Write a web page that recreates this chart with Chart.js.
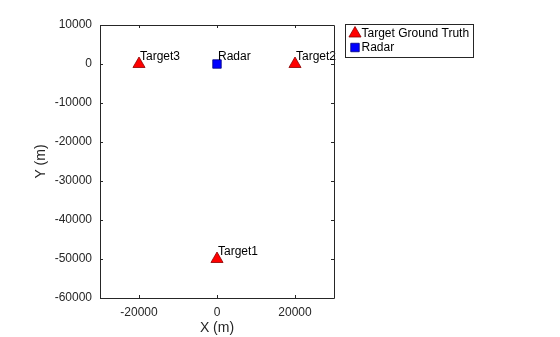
<!DOCTYPE html>
<html>
<head>
<meta charset="utf-8">
<script src="https://cdn.jsdelivr.net/npm/chart.js@4"></script>
<style>
  html, body { margin: 0; padding: 0; background: #ffffff; }
  #plot { display: block; }
</style>
</head>
<body>
<canvas id="plot" width="560" height="337"></canvas>
<script>
// data
const targetNames = ['Target1', 'Target2', 'Target3'];
const targetX = [0, 20000, -20000];
const targetY = [-50000, 0, 0];
const radarNames = ['Radar'];
const radarX = [0];
const radarY = [0];
const xTicks = [-20000, 0, 20000];
const yTicks = [10000, 0, -10000, -20000, -30000, -40000, -50000, -60000];
const legendLabels = ['Target Ground Truth', 'Radar'];

const FONT = '"Liberation Sans", Arial, Helvetica, sans-serif';
const AXIS_COLOR = '#262626';

const toPoints = (xs, ys) => xs.map((x, i) => ({ x: x, y: ys[i] }));

function drawMarker(ctx, style, r, x, y) {
  if (style === 'triangle') {
    const h = Math.sqrt(3) / 2 * r;
    ctx.moveTo(x, y - r);
    ctx.lineTo(x + h, y + r / 2);
    ctx.lineTo(x - h, y + r / 2);
    ctx.closePath();
  } else {
    const s = Math.SQRT1_2 * r;
    ctx.rect(x - s, y - s, 2 * s, 2 * s);
  }
}

// text next to each marker, plus the box, inward ticks and legend (MATLAB style)
const decorPlugin = {
  id: 'decor',
  afterDatasetsDraw(chart) {
    const ctx = chart.ctx;
    const xs = chart.scales.x;
    const ys = chart.scales.y;
    ctx.save();
    ctx.font = '12px ' + FONT;
    ctx.fillStyle = '#000000';
    ctx.textAlign = 'left';
    ctx.textBaseline = 'middle';
    const drawNames = (names, xv, yv) => {
      names.forEach((name, i) => {
        ctx.fillText(name, xs.getPixelForValue(xv[i]) + 1, ys.getPixelForValue(yv[i]) - 7);
      });
    };
    drawNames(targetNames, targetX, targetY);
    drawNames(radarNames, radarX, radarY);
    ctx.restore();
  },
  afterDraw(chart) {
    const ctx = chart.ctx;
    const area = chart.chartArea;
    const xs = chart.scales.x;
    const ys = chart.scales.y;
    const tick = 3;
    ctx.save();
    ctx.strokeStyle = AXIS_COLOR;
    ctx.lineWidth = 1;
    ctx.beginPath();
    ctx.rect(Math.round(area.left) + 0.5, Math.round(area.top) + 0.5,
      Math.round(area.right - area.left), Math.round(area.bottom - area.top));
    xTicks.forEach((v) => {
      const px = Math.round(xs.getPixelForValue(v)) + 0.5;
      ctx.moveTo(px, area.bottom);
      ctx.lineTo(px, area.bottom - tick);
      ctx.moveTo(px, area.top);
      ctx.lineTo(px, area.top + tick);
    });
    yTicks.forEach((v) => {
      const py = Math.round(ys.getPixelForValue(v)) + 0.5;
      ctx.moveTo(area.left, py);
      ctx.lineTo(area.left + tick, py);
      ctx.moveTo(area.right, py);
      ctx.lineTo(area.right - tick, py);
    });
    ctx.stroke();

    // legend box
    const lx = 345.5, ly = 24.5, lw = 128, lh = 33;
    ctx.fillStyle = '#ffffff';
    ctx.fillRect(lx, ly, lw, lh);
    ctx.strokeStyle = '#262626';
    ctx.strokeRect(lx, ly, lw, lh);
    ctx.font = '12px ' + FONT;
    ctx.textAlign = 'left';
    ctx.textBaseline = 'middle';
    chart.data.datasets.forEach((ds, i) => {
      const cy = ly + 9 + i * 14;
      ctx.fillStyle = ds.pointBackgroundColor;
      ctx.strokeStyle = ds.pointBorderColor;
      ctx.lineWidth = ds.pointBorderWidth;
      ctx.beginPath();
      drawMarker(ctx, ds.pointStyle, ds.pointRadius, lx + 9.5, cy);
      ctx.fill();
      ctx.stroke();
      ctx.fillStyle = '#000000';
      ctx.fillText(legendLabels[i], lx + 16, cy + 0.5);
    });
    ctx.restore();
  }
};

new Chart(document.getElementById('plot'), {
  type: 'scatter',
  data: {
    datasets: [
      {
        label: legendLabels[0],
        data: toPoints(targetX, targetY),
        pointStyle: 'triangle',
        pointRadius: 7,
        pointHoverRadius: 7,
        pointBackgroundColor: '#ff0000',
        pointBorderColor: '#8a0000',
        pointBorderWidth: 0.8
      },
      {
        label: legendLabels[1],
        data: toPoints(radarX, radarY),
        pointStyle: 'rect',
        pointRadius: 6,
        pointHoverRadius: 6,
        pointBackgroundColor: '#0000ff',
        pointBorderColor: '#000080',
        pointBorderWidth: 0.8
      }
    ]
  },
  options: {
    responsive: false,
    devicePixelRatio: 1,
    animation: false,
    events: [],
    layout: { padding: { left: 0, right: 226, top: 25, bottom: 0 } },
    plugins: {
      legend: { display: false },
      tooltip: { enabled: false }
    },
    scales: {
      x: {
        type: 'linear',
        min: -30000,
        max: 30000,
        afterBuildTicks: (scale) => { scale.ticks = xTicks.map((v) => ({ value: v })); },
        afterFit: (scale) => { scale.height = 39; },
        grid: { display: false, drawTicks: false },
        border: { display: false },
        ticks: {
          padding: 7,
          color: AXIS_COLOR,
          font: { family: FONT, size: 12 },
          maxRotation: 0,
          callback: (v) => String(v)
        },
        title: {
          display: true,
          text: 'X (m)',
          color: AXIS_COLOR,
          font: { family: FONT, size: 14 },
          padding: { top: 0, bottom: 0 }
        }
      },
      y: {
        type: 'linear',
        min: -60000,
        max: 10000,
        afterBuildTicks: (scale) => { scale.ticks = yTicks.map((v) => ({ value: v })); },
        afterFit: (scale) => { scale.width = 100; },
        grid: { display: false, drawTicks: false },
        border: { display: false },
        ticks: {
          padding: 8,
          color: AXIS_COLOR,
          font: { family: FONT, size: 12 },
          callback: (v) => String(v)
        },
        title: {
          display: true,
          text: 'Y (m)',
          color: AXIS_COLOR,
          font: { family: FONT, size: 14 },
          padding: { top: 33, bottom: 0 }
        }
      }
    }
  },
  plugins: [decorPlugin]
});
</script>
</body>
</html>
